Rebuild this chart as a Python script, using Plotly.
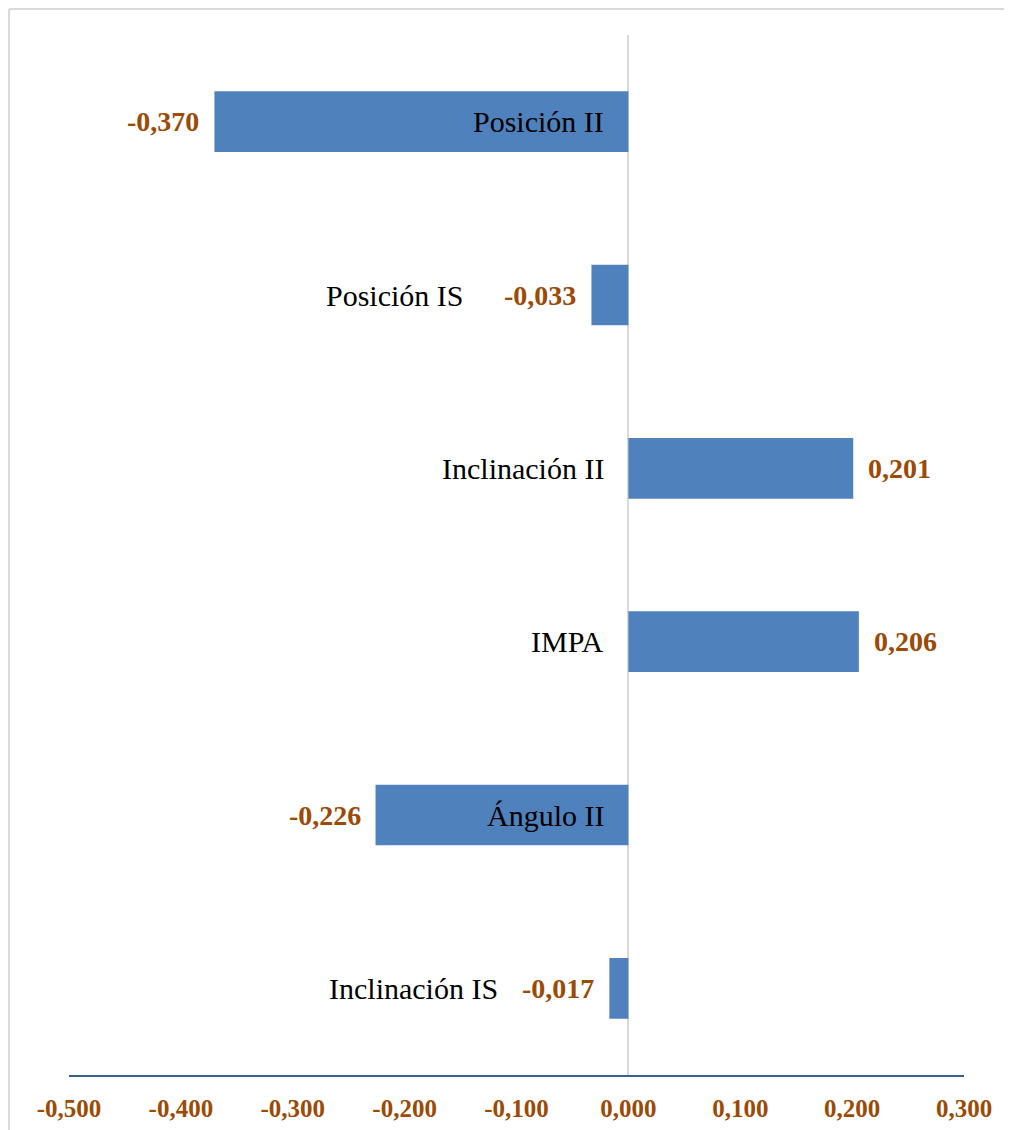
import plotly.graph_objects as go

categories = ["Posición II", "Posición IS", "Inclinación II", "IMPA", "Ángulo II", "Inclinación IS"]
values = [-0.370, -0.033, 0.201, 0.206, -0.226, -0.017]
tick_vals = [-0.5, -0.4, -0.3, -0.2, -0.1, 0.0, 0.1, 0.2, 0.3]
tick_text = ["-0,500", "-0,400", "-0,300", "-0,200", "-0,100", "0,000", "0,100", "0,200", "0,300"]

# pixel offsets for category label right edges, relative to the zero line
cat_shift = [-22, -162, -22, -22, -22, -128]

BAR = "#4F81BD"
LBL = "#9C4A06"
SERIF = "Liberation Serif"

fig = go.Figure()
fig.add_trace(go.Bar(
    y=categories, x=values, orientation="h",
    marker=dict(color=BAR, line=dict(width=0)),
    width=0.35, hoverinfo="skip",
))

ann = []
for c, v, s in zip(categories, values, cat_shift):
    ann.append(dict(x=0, y=c, xref="x", yref="y", text=c, showarrow=False,
                    xanchor="right", yanchor="middle", xshift=s,
                    font=dict(family=SERIF, size=30, color="#000000")))
    txt = ("-" if v < 0 else "") + f"{abs(v):.3f}".replace(".", ",")
    ann.append(dict(x=v, y=c, xref="x", yref="y", text="<b>" + txt + "</b>", showarrow=False,
                    xanchor="right" if v < 0 else "left", yanchor="middle",
                    xshift=-13 if v < 0 else 13,
                    font=dict(family=SERIF, size=28, color=LBL)))

border = dict(color="#D9D9D9", width=2)
fig.update_layout(
    width=1004, height=1122,
    margin=dict(l=61, r=48, t=27, b=55, autoexpand=False),
    paper_bgcolor="white", plot_bgcolor="white",
    showlegend=False,
    annotations=ann,
    xaxis=dict(range=[-0.5, 0.3], tickvals=tick_vals, ticktext=tick_text,
               showgrid=False, zeroline=True, zerolinecolor="#D9D9D9", zerolinewidth=2,
               showline=True, linecolor="#3A5F8F", linewidth=2, ticks="",
               ticklabelstandoff=10, automargin=False,
               tickfont=dict(family=SERIF, size=25, color=LBL, weight="bold"),
               fixedrange=True),
    yaxis=dict(categoryorder="array", categoryarray=categories[::-1],
               showticklabels=False, showgrid=False, zeroline=False, showline=False,
               range=[-0.5, 5.5], automargin=False),
    shapes=[
        dict(type="line", xref="paper", yref="paper", x0=-0.067, x1=-0.067, y0=-0.1, y1=1.025, line=border, layer="below"),
        dict(type="line", xref="paper", yref="paper", x0=-0.067, x1=1.1, y0=1.025, y1=1.025, line=border, layer="below"),
    ],
)

fig.write_html("out.html")
